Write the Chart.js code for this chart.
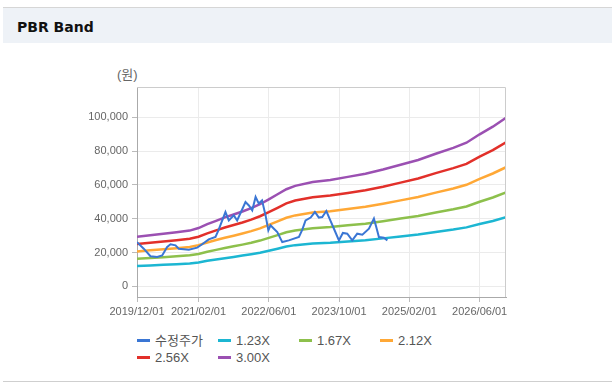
<!DOCTYPE html>
<html>
<head>
<meta charset="utf-8">
<script src="https://cdn.jsdelivr.net/npm/chart.js@4/dist/chart.umd.min.js"></script>
<style>
  html, body { margin: 0; padding: 0; }
  body {
    width: 612px; height: 387px; position: relative; overflow: hidden;
    background: #fff; font-family: 'Liberation Sans', Arial, 'Noto Sans CJK KR', sans-serif;
  }
  .top-line { position: absolute; left: 3px; top: 7px; width: 609px; height: 1px; background: #d6d6d6; }
  .header { position: absolute; left: 3px; top: 8px; width: 609px; height: 35px; background: #eef2f7; }
  .header span {
    position: absolute; left: 14px; top: 11px; line-height: 16px;
    font: bold 14px 'DejaVu Sans', Verdana, sans-serif; color: #111;
  }
  .unit { position: absolute; left: 117px; top: 66px; font-size: 13px; line-height: 17px; color: #666; }
  .chart-box { position: absolute; left: 0; top: 50px; width: 612px; height: 280px; }
  .legend-item {
    position: absolute; height: 17px; line-height: 17px; font-size: 13px; color: #555; white-space: nowrap;
  }
  .legend-item i {
    display: inline-block; width: 13px; height: 3px; margin-right: 5px; vertical-align: middle; position: relative; top: -1px;
  }
  .bottom-line { position: absolute; left: 3px; top: 381px; width: 609px; height: 1px; background: #cfcfcf; }
</style>
</head>
<body>
  <div class="top-line"></div>
  <div class="header"><span>PBR Band</span></div>
  <div class="unit">(원)</div>
  <div class="chart-box"><canvas id="chart-pbr"></canvas></div>
  <div id="legend"></div>
  <div class="bottom-line"></div>

<script>
  // Band series (monthly samples, 원)
  const bandDates = ['2019/12', '2020/03', '2020/06', '2020/09', '2020/12', '2021/02', '2021/04', '2021/06',
    '2021/08', '2021/10', '2021/12', '2022/02', '2022/04', '2022/06', '2022/08', '2022/10', '2022/12',
    '2023/04', '2023/08', '2023/12', '2024/04', '2024/08', '2024/12', '2025/04', '2025/08', '2025/12',
    '2026/03', '2026/06', '2026/09', '2026/12'];
  const band123 = [12000, 12400, 12750, 13100, 13500, 14150, 15100, 15900, 16700, 17400, 18200, 19000, 19900, 21100,
    22300, 23600, 24400, 25300, 25800, 26600, 27300, 28400, 29500, 30700, 32200, 33600, 34900, 36900, 38700, 40900];
  const band167 = [16300, 16800, 17300, 17800, 18400, 19200, 20500, 21600, 22700, 23700, 24700, 25800, 27100, 28700,
    30300, 32000, 33100, 34400, 35100, 36100, 37100, 38500, 40100, 41600, 43700, 45600, 47300, 50100, 52600, 55600];
  const band212 = [20700, 21300, 22000, 22600, 23300, 24400, 26000, 27400, 28800, 30000, 31300, 32700, 34300, 36400,
    38500, 40600, 42000, 43700, 44500, 45800, 47100, 48900, 50900, 52900, 55500, 57900, 60100, 63600, 66800, 70500];
  const band256 = [25000, 25800, 26500, 27300, 28200, 29400, 31400, 33100, 34800, 36300, 37800, 39500, 41500, 43900,
    46500, 49100, 50800, 52700, 53800, 55300, 56900, 59000, 61400, 63800, 67000, 70000, 72500, 76800, 80600, 85200];
  const band300 = [29300, 30200, 31100, 32000, 33000, 34500, 36800, 38800, 40800, 42500, 44300, 46300, 48600, 51500,
    54500, 57500, 59500, 61800, 63000, 64800, 66700, 69200, 72000, 74800, 78500, 82000, 85000, 90000, 94500, 99800];

  // 수정주가 (adjusted price)
  const priceDates = ['2019/12/01', '2020/01/17', '2020/03/03', '2020/04/19', '2020/05/23', '2020/06/27', '2020/07/20',
    '2020/08/24', '2020/09/16', '2020/11/25', '2021/01/22', '2021/02/26', '2021/04/11', '2021/05/27', '2021/06/17',
    '2021/08/05', '2021/08/28', '2021/10/02', '2021/10/25', '2021/12/22', '2022/01/15', '2022/02/08', '2022/03/01',
    '2022/03/23', '2022/04/15', '2022/05/09', '2022/05/28', '2022/06/13', '2022/07/06', '2022/07/29', '2022/09/03',
    '2022/10/18', '2022/12/27', '2023/01/20', '2023/02/12', '2023/03/17', '2023/04/16', '2023/05/13', '2023/06/06',
    '2023/07/04', '2023/07/26', '2023/08/26', '2023/09/30', '2023/10/27', '2023/11/27', '2024/01/01', '2024/02/05',
    '2024/03/10', '2024/04/25', '2024/05/29', '2024/06/15', '2024/07/03', '2024/08/07', '2024/09/01'];
  const priceValues = [26200, 22300, 17800, 17400, 18300, 23300, 24900, 24300, 22300, 21700, 22900, 24900, 27800,
    29200, 33100, 44000, 39000, 42000, 39000, 49900, 47900, 45000, 52900, 49000, 50900, 42000, 33100, 36100, 34100,
    32100, 26200, 27200, 29200, 33600, 39000, 40700, 44000, 40700, 41000, 44600, 40100, 34100, 27200, 31600, 31200,
    27200, 31200, 30600, 34100, 40100, 35100, 29200, 28800, 27200];

  const seriesNames = ['수정주가', '1.23X', '1.67X', '2.12X', '2.56X', '3.00X'];
  const seriesColors = ['#3a76d4', '#1cb6d2', '#8dc04c', '#ffa836', '#e2302a', '#9b50b2'];

  const xTickDates = ['2019/12/01', '2021/02/01', '2022/06/01', '2023/10/01', '2025/02/01', '2026/06/01'];
  const yTicks = [0, 20000, 40000, 60000, 80000, 100000];

  // months since 2019/12
  function monthIndex(str) {
    const p = str.split('/').map(Number);
    const day = p[2] || 1;
    return (p[0] - 2019) * 12 + (p[1] - 12) + (day - 1) / 30;
  }

  const bandSeries = [band123, band167, band212, band256, band300];
  const datasets = [{
    label: seriesNames[0],
    data: priceDates.map((d, i) => ({ x: monthIndex(d), y: priceValues[i] })),
    borderColor: seriesColors[0],
    borderWidth: 2
  }].concat(bandSeries.map((values, k) => ({
    label: seriesNames[k + 1],
    data: bandDates.map((d, i) => ({ x: monthIndex(d), y: values[i] })),
    borderColor: seriesColors[k + 1],
    borderWidth: 2.5
  })));

  // Light frame on top and right of the plot
  const frame = {
    id: 'frame',
    afterDraw(chart) {
      const { ctx, chartArea: a } = chart;
      ctx.save();
      ctx.strokeStyle = '#cccccc';
      ctx.lineWidth = 1;
      ctx.beginPath();
      ctx.moveTo(a.left, a.top + 0.5);
      ctx.lineTo(a.right - 0.5, a.top + 0.5);
      ctx.lineTo(a.right - 0.5, a.bottom);
      ctx.stroke();
      ctx.restore();
    }
  };

  Chart.defaults.font.family = "'Liberation Sans', Arial, sans-serif";
  Chart.defaults.font.size = 11;
  Chart.defaults.color = '#666';

  new Chart(document.getElementById('chart-pbr'), {
    type: 'line',
    data: { datasets },
    options: {
      responsive: true,
      maintainAspectRatio: false,
      animation: false,
      parsing: false,
      elements: { point: { radius: 0 }, line: { tension: 0, fill: false } },
      layout: { padding: { top: 37, right: 106, left: 0, bottom: 0 } },
      plugins: { legend: { display: false }, tooltip: { enabled: false } },
      scales: {
        x: {
          type: 'linear',
          min: 0,
          max: 84,
          afterBuildTicks: s => { s.ticks = xTickDates.map(d => ({ value: monthIndex(d) })); },
          afterFit: s => { s.height = 33; },
          ticks: {
            autoSkip: false, maxRotation: 0, padding: 3,
            callback: (v, i) => xTickDates[i]
          },
          grid: { color: '#ebebeb', tickColor: '#bbbbbb', tickLength: 5 },
          border: { color: '#aaaaaa' }
        },
        y: {
          min: -6300,
          max: 118000,
          afterBuildTicks: s => { s.ticks = yTicks.map(v => ({ value: v })); },
          afterFit: s => { s.width = 137; },
          ticks: { padding: 4, callback: v => v.toLocaleString('en-US') },
          grid: { color: '#ebebeb', tickColor: '#bbbbbb', tickLength: 5 },
          border: { color: '#aaaaaa' }
        }
      }
    },
    plugins: [frame]
  });

  // Legend laid out in fixed columns
  const legend = document.getElementById('legend');
  seriesNames.forEach((name, i) => {
    const item = document.createElement('div');
    item.className = 'legend-item';
    item.style.left = (137 + (i % 4) * 81) + 'px';
    item.style.top = (332 + Math.floor(i / 4) * 17) + 'px';
    item.innerHTML = '<i style="background:' + seriesColors[i] + '"></i>' + name;
    legend.appendChild(item);
  });
</script>
</body>
</html>
